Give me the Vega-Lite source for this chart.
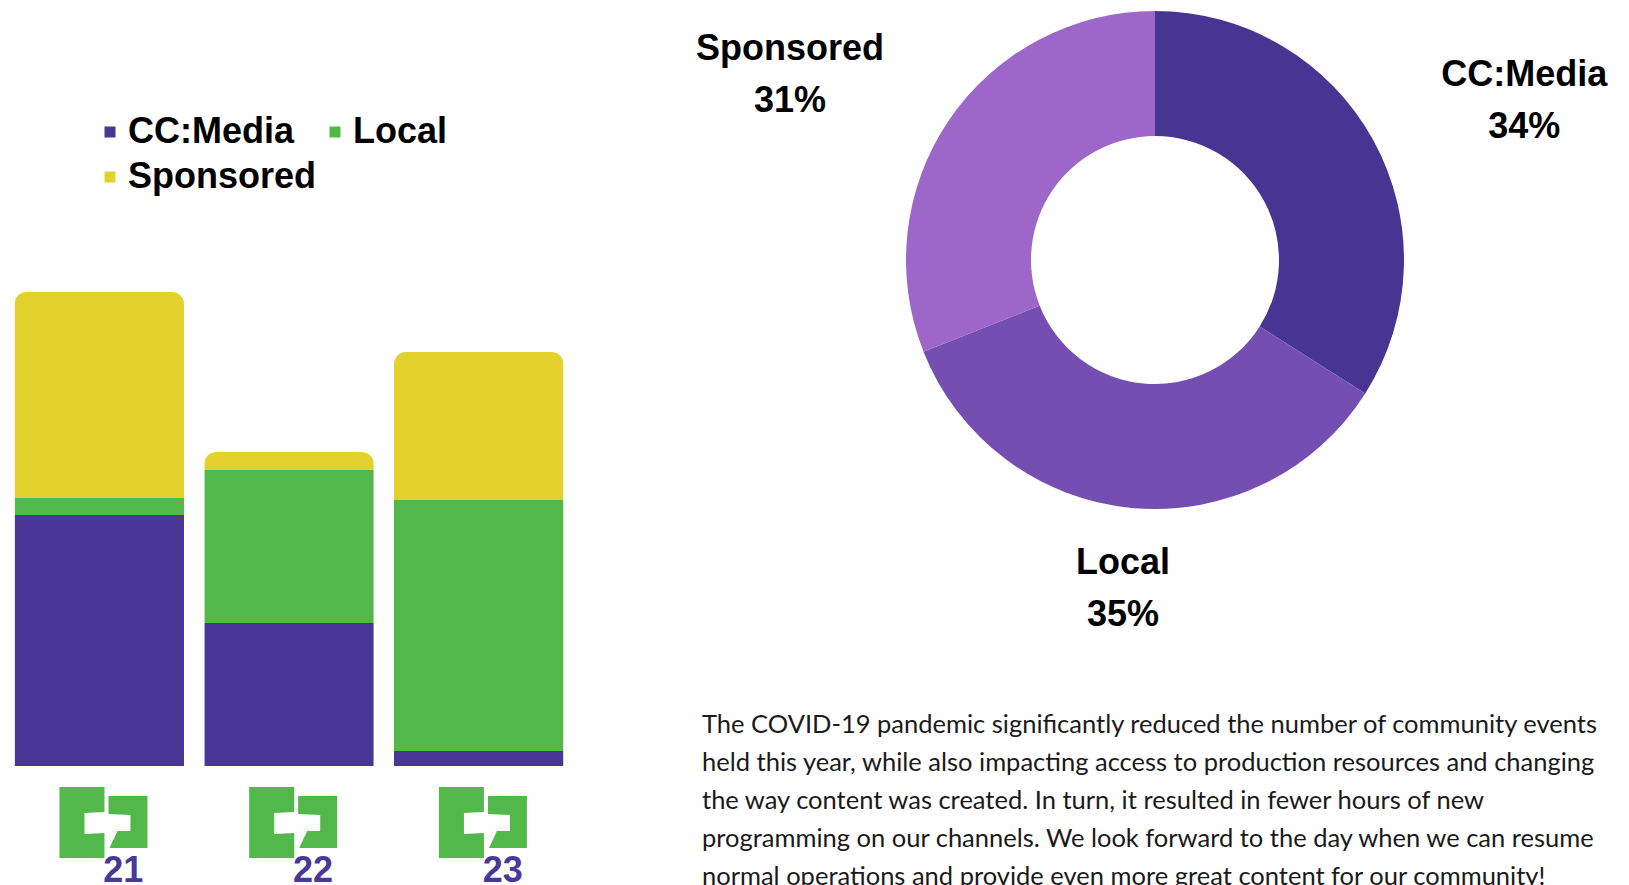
{
  "$schema": "https://vega.github.io/schema/vega-lite/v6.json",
  "padding": 0,
  "background": "white",
  "bounds": "flush",
  "spacing": 82,
  "config": {"view": {"stroke": null}},
  "resolve": {"scale": {"color": "independent"}},
  "datasets": {
    "bars": [
      {"year": "21", "category": "CC:Media", "hours": 251},
      {"year": "21", "category": "Local", "hours": 17},
      {"year": "21", "category": "Sponsored", "hours": 206},
      {"year": "22", "category": "CC:Media", "hours": 143},
      {"year": "22", "category": "Local", "hours": 153},
      {"year": "22", "category": "Sponsored", "hours": 18},
      {"year": "23", "category": "CC:Media", "hours": 15},
      {"year": "23", "category": "Local", "hours": 251},
      {"year": "23", "category": "Sponsored", "hours": 148}
    ],
    "shares": [
      {"category": "CC:Media", "share": 0.34},
      {"category": "Local", "share": 0.35},
      {"category": "Sponsored", "share": 0.31}
    ],
    "paragraph": [
      {"line": 1, "text": "The COVID-19 pandemic significantly reduced the number of community events"},
      {"line": 2, "text": "held this year, while also impacting access to production resources and changing"},
      {"line": 3, "text": "the way content was created. In turn, it resulted in fewer hours of new"},
      {"line": 4, "text": "programming on our channels. We look forward to the day when we can resume"},
      {"line": 5, "text": "normal operations and provide even more great content for our community!"}
    ]
  },
  "hconcat": [
    {
      "width": 578,
      "height": 885,
      "data": {"name": "bars"},
      "encoding": {
        "x": {"field": "year", "type": "nominal", "axis": null,
              "scale": {"type": "band", "paddingInner": 0.1065, "paddingOuter": 0.0765}}
      },
      "layer": [
        {
          "mark": {"type": "bar", "cornerRadiusTopLeft": 12, "cornerRadiusTopRight": 12},
          "encoding": {
            "y": {"field": "hours", "type": "quantitative", "stack": "zero", "axis": null,
                  "scale": {"domain": [-119, 766], "nice": false, "zero": false}},
            "order": {"field": "category", "sort": "ascending"},
            "color": {
              "field": "category", "type": "nominal",
              "scale": {"domain": ["CC:Media", "Sponsored", "Local"], "range": ["#483796", "#e3d22e", "#52b849"]},
              "legend": {
                "title": null, "orient": "none", "legendX": 92, "legendY": 114,
                "columns": 2, "columnPadding": -6, "rowPadding": 9, "padding": 0,
                "symbolType": "square", "symbolSize": 121, "symbolStrokeWidth": 0,
                "labelFont": "Liberation Sans", "labelFontSize": 36, "labelFontWeight": "bold",
                "labelColor": "#000000", "labelOffset": 0, "labelLimit": 400
              }
            }
          }
        },
        {
          "transform": [{"filter": "datum.category === 'CC:Media'"}],
          "mark": {"type": "point", "filled": true, "opacity": 1, "strokeWidth": 0, "size": 7744, "color": "#52b849",
                   "shape": "M-0.905,-0.795 L0.118,-0.795 L0.118,-0.227 L-0.336,-0.205 L-0.336,0.273 L0.118,0.25 L0.118,0.818 L-0.905,0.818 Z M0.209,-0.591 L1.095,-0.591 L1.095,0.591 L0.232,0.591 L0.414,0.205 L0.709,0.205 L0.709,-0.159 L0.209,-0.182 Z"},
          "encoding": {"y": {"datum": -56, "type": "quantitative"}}
        },
        {
          "transform": [{"filter": "datum.category === 'CC:Media'"}],
          "mark": {"type": "text", "align": "right", "baseline": "alphabetic", "dx": 44,
                   "font": "Liberation Sans", "fontSize": 36, "fontWeight": "bold", "color": "#47389a"},
          "encoding": {"y": {"datum": -116, "type": "quantitative"}, "text": {"field": "year"}}
        }
      ]
    },
    {
      "bounds": "flush",
      "spacing": 213,
      "vconcat": [
        {
          "width": 990,
          "height": 520,
          "data": {"name": "shares"},
          "encoding": {
            "theta": {"field": "share", "type": "quantitative", "stack": true},
            "order": {"field": "category", "sort": "ascending"}
          },
          "layer": [
            {
              "mark": {"type": "arc", "innerRadius": 124, "outerRadius": 249},
              "encoding": {
                "color": {"field": "category", "type": "nominal", "legend": null,
                          "scale": {"domain": ["CC:Media", "Local", "Sponsored"], "range": ["#473594", "#744eb0", "#9c67c9"]}}
              }
            },
            {
              "mark": {"type": "text", "radius": 330, "baseline": "alphabetic", "dy": -15,
                       "dx": {"expr": "datum.category === 'CC:Media' ? 80 : (datum.category === 'Sponsored' ? -92 : -1)"},
                       "font": "Liberation Sans", "fontSize": 36, "fontWeight": "bold", "color": "#000000"},
              "encoding": {"detail": {"field": "category"}, "text": {"field": "category"}}
            },
            {
              "mark": {"type": "text", "radius": 330, "baseline": "alphabetic", "dy": 37,
                       "dx": {"expr": "datum.category === 'CC:Media' ? 80 : (datum.category === 'Sponsored' ? -92 : -1)"},
                       "font": "Liberation Sans", "fontSize": 36, "fontWeight": "bold", "color": "#000000"},
              "encoding": {"detail": {"field": "category"}, "text": {"field": "share", "format": ".0%"}}
            }
          ]
        },
        {
          "width": 84,
          "height": 152,
          "data": {"name": "paragraph"},
          "mark": {"type": "text", "align": "left", "baseline": "alphabetic",
                   "font": "Lato", "fontSize": 25.5, "fontWeight": "normal", "color": "#1a1a1a"},
          "encoding": {
            "y": {"field": "line", "type": "ordinal", "axis": null, "scale": {"type": "point", "padding": 0}},
            "text": {"field": "text"}
          }
        }
      ]
    }
  ]
}
